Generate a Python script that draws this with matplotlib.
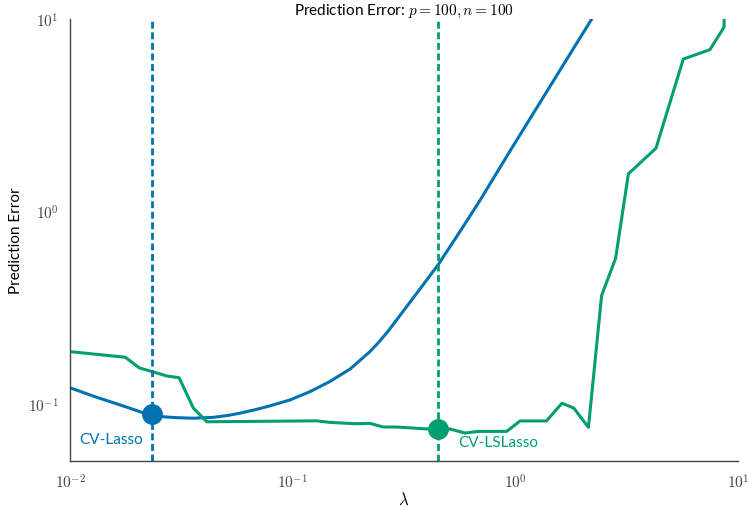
"""Prediction error vs lambda for CV-Lasso and CV-LSLasso."""
import numpy as np
import matplotlib
matplotlib.use('Agg')
import matplotlib.pyplot as plt
from matplotlib.ticker import FuncFormatter, NullLocator

plt.rcParams['font.family'] = ['Lato', 'DejaVu Sans']
plt.rcParams['mathtext.fontset'] = 'cm'

BLUE = '#0072B2'
GREEN = '#009E73'

# Lasso prediction error curve
lasso_lam = [0.0101, 0.0127, 0.0168, 0.0210, 0.0234, 0.0262, 0.0300, 0.0358, 0.0440,
             0.0510, 0.0580, 0.0680, 0.0791, 0.0972, 0.1197, 0.147, 0.181, 0.222,
             0.245, 0.269, 0.303, 0.373, 0.451, 0.564, 0.693, 0.946, 1.43, 2.164, 2.95]
lasso_err = [0.121, 0.110, 0.0989, 0.0906, 0.0887, 0.0859, 0.0850, 0.0844, 0.0853,
             0.0872, 0.0897, 0.0935, 0.0979, 0.105, 0.116, 0.131, 0.152, 0.187,
             0.211, 0.240, 0.288, 0.396, 0.531, 0.787, 1.14, 2.06, 4.46, 9.67, 17.3]

# LSLasso prediction error curve
lslasso_lam = [0.0101, 0.0177, 0.0205, 0.0272, 0.0309, 0.0358, 0.0411, 0.128, 0.147,
               0.194, 0.222, 0.255, 0.293, 0.405, 0.454, 0.509, 0.594, 0.679, 0.914,
               1.05, 1.38, 1.62, 1.83, 2.13, 2.44, 2.82, 3.22, 4.28, 5.68, 7.48, 8.65,
               8.9]
lslasso_err = [0.187, 0.175, 0.154, 0.140, 0.137, 0.0953, 0.0809, 0.0818, 0.0803,
               0.0790, 0.0794, 0.0760, 0.0760, 0.0742, 0.0742, 0.0742, 0.0707, 0.0721,
               0.0721, 0.0817, 0.0817, 0.101, 0.0953, 0.0757, 0.366, 0.571, 1.57, 2.13,
               6.19, 6.93, 9.06, 30.0]

# CV-selected lambdas and their errors
cv_lasso = (0.0234, 0.0887)
cv_lslasso = (0.451, 0.0742)

fig = plt.figure(figsize=(7.49, 5.10), dpi=100)
ax = fig.add_axes([0.0935, 0.0941, 0.8918, 0.8667])

ax.plot(lasso_lam, lasso_err, color=BLUE, lw=2.2, solid_joinstyle='round')
ax.plot(lslasso_lam, lslasso_err, color=GREEN, lw=2.2)
ax.axvline(cv_lasso[0], color=BLUE, lw=2, dashes=(2.5, 1.3))
ax.axvline(cv_lslasso[0], color=GREEN, lw=2, dashes=(2.5, 1.3))
ax.plot(*cv_lasso, 'o', color=BLUE, ms=14, zorder=5)
ax.plot(*cv_lslasso, 'o', color=GREEN, ms=14, zorder=5)
ax.text(0.0153, 0.0658, 'CV-Lasso', color=BLUE, fontsize=11, ha='center', va='center')
ax.text(0.553, 0.0635, 'CV-LSLasso', color=GREEN, fontsize=11, ha='left', va='center')

ax.set_xscale('log')
ax.set_yscale('log')
ax.set_xlim(1e-2, 1e1)
ax.set_ylim(0.0506, 10)

fmt = FuncFormatter(lambda v, _: r'$10^{%d}$' % int(round(np.log10(v))))
ax.xaxis.set_major_formatter(fmt)
ax.yaxis.set_major_formatter(fmt)
ax.xaxis.set_minor_locator(NullLocator())
ax.yaxis.set_minor_locator(NullLocator())
ax.tick_params(length=0, labelsize=11, colors='#444444', pad=8)

for s in ['top', 'right']:
    ax.spines[s].set_visible(False)
for s in ['left', 'bottom']:
    ax.spines[s].set_color('#444444')
    ax.spines[s].set_linewidth(1.0)

ax.set_title(r'Prediction Error: $p = 100, n = 100$', fontsize=11, pad=2)
ax.set_xlabel(r'$\lambda$', fontsize=12, labelpad=0)
ax.set_ylabel('Prediction Error', fontsize=11, labelpad=4)

fig.savefig('out.png', dpi=100)
